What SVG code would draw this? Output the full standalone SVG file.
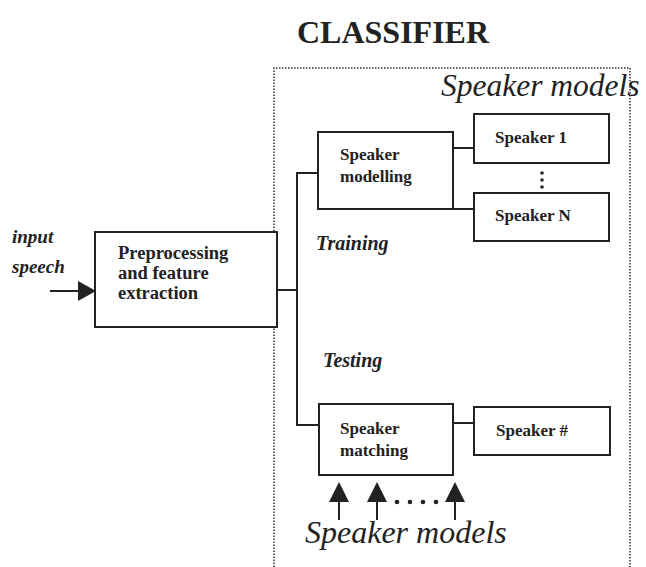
<svg xmlns="http://www.w3.org/2000/svg" width="646" height="567" viewBox="0 0 646 567">
<style>
.box{fill:#fff;stroke:#222;stroke-width:2}
.ln{fill:none;stroke:#222;stroke-width:2}
.dot{fill:none;stroke:#333;stroke-width:1.5;stroke-dasharray:1.5 1.5}
.t{font-family:"Liberation Serif",serif;fill:#222}
.b{font-weight:bold}
.i{font-style:italic}
.lab{font-size:17px;font-weight:bold}
</style>
<rect width="646" height="567" fill="#fff"/>
<text class="t b" x="297" y="43" font-size="32">CLASSIFIER</text>
<g id="classifier-frame">
<path class="dot" d="M274,567 V68 H630 V567"/>
</g>
<text class="t i" x="441" y="96" font-size="31.5">Speaker models</text>
<g id="connectors">
<path class="ln" d="M277,290 H297"/>
<path class="ln" d="M318,173 H297 V425 H319"/>
<path class="ln" d="M453,148 H474"/>
<path class="ln" d="M453,209 H474"/>
<path class="ln" d="M453,423 H474"/>
<path class="ln" d="M50,291 H80"/>
<path d="M78,281 L96,291 L78,301 z" fill="#222"/>
<g fill="#222">
<path d="M339,482 L349,502 L329,502 z"/>
<path d="M377,482 L387,502 L367,502 z"/>
<path d="M455,482 L465,502 L445,502 z"/>
</g>
<path class="ln" d="M339,500 V520 M377,500 V520 M455,500 V520"/>
<g fill="#222"><circle cx="397" cy="502" r="2.3"/><circle cx="410" cy="502" r="2.3"/><circle cx="423" cy="502" r="2.3"/><circle cx="436" cy="502" r="2.3"/></g>
<g fill="#222"><circle cx="542" cy="173" r="1.8"/><circle cx="542" cy="180" r="1.8"/><circle cx="542" cy="187" r="1.8"/></g>
</g>
<g id="input">
<text class="t i b" x="12" y="243" font-size="19">input</text>
<text class="t i b" x="12" y="273" font-size="19">speech</text>
</g>
<g id="preprocessing">
<rect class="box" x="95" y="232" width="182" height="95"/>
<text class="t b" font-size="18.5"><tspan x="118" y="259">Preprocessing</tspan><tspan x="118" y="279">and feature</tspan><tspan x="118" y="299">extraction</tspan></text>
</g>
<g id="speaker-modelling">
<rect class="box" x="318" y="132" width="135" height="77"/>
<text class="t lab"><tspan x="340" y="160">Speaker</tspan><tspan x="340" y="182">modelling</tspan></text>
</g>
<g id="speaker-1">
<rect class="box" x="474" y="114" width="135" height="49"/>
<text class="t lab" x="495" y="143">Speaker 1</text>
</g>
<g id="speaker-n">
<rect class="box" x="474" y="193" width="135" height="48"/>
<text class="t lab" x="495" y="221">Speaker N</text>
</g>
<text class="t i b" x="316" y="250" font-size="20">Training</text>
<text class="t i b" x="323" y="367" font-size="20">Testing</text>
<g id="speaker-matching">
<rect class="box" x="319" y="404" width="134" height="71"/>
<text class="t lab"><tspan x="340" y="434">Speaker</tspan><tspan x="340" y="456">matching</tspan></text>
</g>
<g id="speaker-hash">
<rect class="box" x="474" y="407" width="136" height="48"/>
<text class="t lab" x="496" y="436">Speaker #</text>
</g>
<text class="t i" x="305" y="543" font-size="32">Speaker models</text>
</svg>
